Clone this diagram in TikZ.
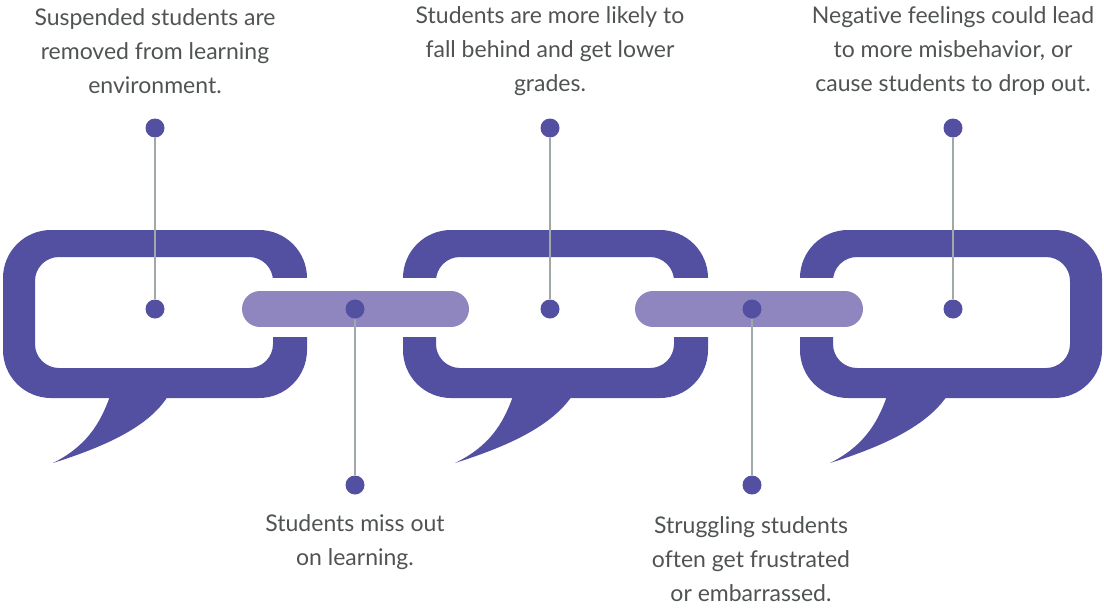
\documentclass[tikz,border=0pt]{standalone}
\usepackage{fontspec}
\setmainfont{Lato}[Ligatures={NoCommon}]
\definecolor{linkc}{HTML}{5450A1}
\definecolor{barc}{HTML}{8F86BF}
\definecolor{linec}{HTML}{A0A8A8}
\definecolor{txtc}{HTML}{505353}
\tikzset{
  dotn/.style={circle,fill=linkc,inner sep=0pt,minimum size=19pt},
  gline/.style={draw=linec,line width=1.3pt},
  txt/.style={align=center,text=txtc,font=\fontsize{23}{34}\selectfont,inner sep=0pt},
  barline/.style={draw=barc,line width=36pt,line cap=round}
}
\begin{document}
\begin{tikzpicture}[x=1pt,y=-1pt]
\useasboundingbox (0,0) rectangle (1104,608);
% links
\fill[linkc,even odd rule] {[rounded corners=48pt] (3,230) rectangle (307,398)} {[rounded corners=24pt] (35,257) rectangle (273,368)};
\fill[linkc,even odd rule] {[rounded corners=48pt] (403,230) rectangle (708,398)} {[rounded corners=24pt] (436,257) rectangle (674,368)};
\fill[linkc,even odd rule] {[rounded corners=48pt] (800,230) rectangle (1102,398)} {[rounded corners=24pt] (833,257) rectangle (1070,368)};
% tails
\fill[linkc] (110,396) .. controls (100,425) and (85,447) .. (53,463) .. controls (110,445) and (150,425) .. (168,396) -- cycle;
\fill[linkc] (513,396) .. controls (503,425) and (488,447) .. (455,463) .. controls (512,445) and (552,425) .. (572,396) -- cycle;
\fill[linkc] (887,396) .. controls (877,425) and (862,447) .. (830,463) .. controls (887,445) and (927,425) .. (947,396) -- cycle;
% gaps
\fill[white] (271,278) rectangle (309,337);
\fill[white] (401,278) rectangle (438,337);
\fill[white] (672,278) rectangle (710,337);
\fill[white] (798,278) rectangle (835,337);
% bars
\draw[barline] (260,309) -- (451,309);
\draw[barline] (653,309) -- (845,309);
% dots
\node[dotn] (t1) at (155,128) {};
\node[dotn] (t2) at (550,128) {};
\node[dotn] (t3) at (953,128) {};
\node[dotn] (m1) at (155,309) {};
\node[dotn] (m2) at (355,309) {};
\node[dotn] (m3) at (550,309) {};
\node[dotn] (m4) at (752,309) {};
\node[dotn] (m5) at (953,309) {};
\node[dotn] (b1) at (355,485) {};
\node[dotn] (b2) at (752,485) {};
\draw[gline] (t1) -- (m1);
\draw[gline] (t2) -- (m3);
\draw[gline] (t3) -- (m5);
\draw[gline] (m2) -- (b1);
\draw[gline] (m4) -- (b2);
% texts
\node[txt] (x1) at (155,51) {Suspended students are\\removed from learning\\environment.};
\node[txt] (x2) at (550,51) {Students are more likely to\\fall behind and get lower\\grades.};
\node[txt] (x3) at (953,51) {Negative feelings could lead\\to more misbehavior, or\\cause students to drop out.};
\node[txt] (x4) at (355,542) {Students miss out\\on learning.};
\node[txt] (x5) at (751,559) {Struggling students\\often get frustrated\\or embarrassed.};
\end{tikzpicture}
\end{document}
